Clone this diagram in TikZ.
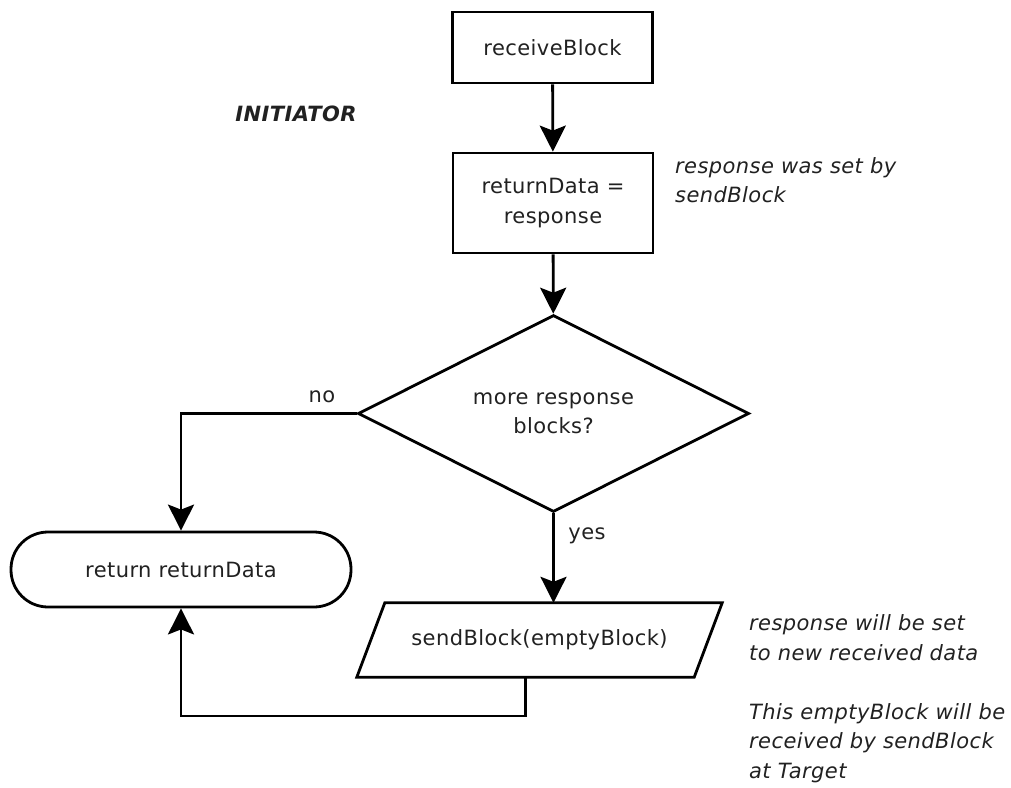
\documentclass[tikz,border=0pt]{standalone}
\usepackage{fontspec}
\setmainfont{DejaVu Sans}[LetterSpace=2]
\usetikzlibrary{shapes.geometric,arrows.meta}
\begin{document}
\begin{tikzpicture}[x=1pt,y=-1pt,
  font=\fontsize{21pt}{29.5pt}\selectfont,
  every node/.style={text=black!87, inner sep=0pt},
  flow/.style={draw=black, line width=2.8pt, fill=white},
  outline/.style={draw=black, line width=2.8pt, line join=miter},
  procbox/.style={flow, rectangle, minimum width=200pt, minimum height=71pt, align=center},
  decbox/.style={flow, diamond, aspect=2, minimum width=391pt, minimum height=197pt, align=center},
  endbox/.style={flow, rectangle, rounded corners=37pt, minimum width=340pt, minimum height=75pt},
  iotext/.style={rectangle, minimum width=337pt, minimum height=74pt},
  conn/.style={draw=black, line width=2.8pt, -{Stealth[length=26pt,width=26pt,inset=5pt]}},
  note/.style={font=\fontsize{21pt}{29.5pt}\selectfont\itshape, align=left, anchor=west}
]
\useasboundingbox (0,0) rectangle (1011,787);

% process steps
\node[procbox] (recv) at (552.5,47.5) {receiveBlock};
\node[procbox, minimum height=100pt] (assign) at (553,203) {returnData =\\response};
\node[decbox] (more) at (553.5,413.5) {more response\\blocks?};
\node[endbox] (ret) at (181,569.5) {return returnData};

% input/output step: a parallelogram slanted by 28pt around its text
\node[iotext] (send) at (539.5,640) {sendBlock(emptyBlock)};
\coordinate (sendtop) at ([xshift=14pt]send.north);
\coordinate (sendbot) at ([xshift=-14pt]send.south);
\draw[outline] ([xshift=14pt]send.north west) -- ([xshift=14pt]send.north east)
  -- ([xshift=-14pt]send.south east) -- ([xshift=-14pt]send.south west) -- cycle;

% labels and notes
\node[font=\fontsize{21pt}{29.5pt}\selectfont\bfseries\itshape] (role) at (296,114) {INITIATOR};
\node (nolbl) at (322,397) {no};
\node (yeslbl) at (587,536) {yes};
\node[note] (note1) at (675,180) {response was set by\\sendBlock};
\node[note] (note2) at (749,637.5) {response will be set\\to new received data};
\node[note] (note3) at (749,743) {This emptyBlock will be\\received by sendBlock\\at Target};

% connectors
\coordinate (loopy) at (0,716);
\draw[conn] (recv) -- (assign);
\draw[conn] (assign) -- (more);
\draw[conn] (more.west) -| (ret.north);
\draw[conn] (more.south) -- (sendtop);
\draw[conn] (sendbot) -- (sendbot |- loopy) -| (ret.south);
\end{tikzpicture}
\end{document}
